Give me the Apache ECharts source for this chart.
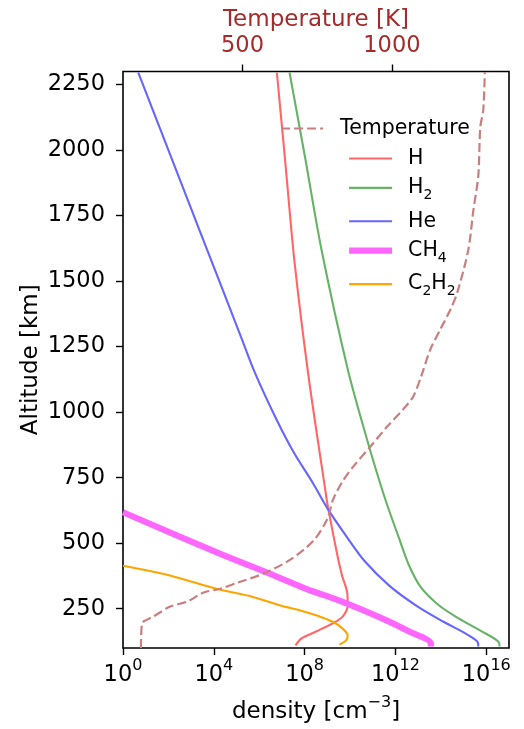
<!DOCTYPE html>
<html>
<head>
<meta charset="utf-8">
<script src="https://cdn.jsdelivr.net/npm/echarts@6/dist/echarts.min.js"></script>
<style>
  html, body { margin: 0; padding: 0; background: #ffffff; }
  #chart { width: 524px; height: 729px; }
</style>
</head>
<body>
<div id="chart"></div>
<script>
const FONT = 'DejaVu Sans';

// Number density profiles: altitude [km] and density [cm^-3]
const hAlt = [2296, 1944, 1583, 1137, 707, 642, 448, 376, 307, 262, 220, 194, 163, 136, 110];
const hDen = [5.98e6, 1.44e7, 3.48e7, 1.48e8, 7.98e8, 1.04e9, 2.85e9, 4.46e9, 7.60e9, 7.85e9, 4.73e9, 1.72e9, 3.21e8, 7.05e7, 3.96e7];

const h2Alt = [2296, 1963, 1621, 1165, 909, 738, 642, 517, 414, 330, 262, 212, 167, 121, 106];
const h2Den = [2.16e7, 1.09e8, 5.50e8, 7.85e9, 5.05e10, 1.95e11, 4.47e11, 1.46e12, 4.02e12, 1.35e13, 8.36e13, 6.31e14, 5.27e15, 3.61e16, 3.80e16];

const heAlt = [2296, 2154, 1975, 1811, 1583, 1495, 1392, 1278, 1153, 974, 848, 726, 631, 528, 433, 338, 262, 201, 155, 125, 106];
const heDen = [4.70, 20.4, 129, 703, 7.40e3, 1.84e4, 5.32e4, 1.73e5, 6.27e5, 5.62e6, 3.24e7, 2.44e8, 1.04e9, 6.67e9, 4.25e10, 5.32e11, 8.17e12, 1.25e14, 1.24e15, 4.02e15, 4.45e15];

const ch4Alt = [618, 460, 384, 326, 276, 212, 163, 117, 106];
const ch4Den = [1.0, 1.82e4, 2.86e6, 1.17e8, 4.73e9, 2.70e11, 4.02e12, 3.61e13, 3.61e13];

const c2h2Alt = [414, 377, 326, 295, 263, 244, 225, 200, 174, 148, 129, 113];
const c2h2Den = [1.0, 116, 1.30e4, 5.27e5, 7.85e6, 5.93e7, 3.21e8, 1.72e9, 4.73e9, 7.85e9, 6.67e9, 3.39e9];

// Temperature profile: altitude [km] and temperature [K]
const tAlt = [100, 190, 202, 220, 258, 277, 311, 326, 349, 384, 437, 509, 593, 669, 741, 794, 870, 946, 1011, 1061, 1137, 1240, 1316, 1392, 1457, 1621, 1773, 1899, 2089, 2154, 2298];
const tVal = [160, 163, 170, 201, 258, 315, 368, 426, 483, 570, 660, 737, 784, 804, 838, 872, 929, 985, 1038, 1072, 1098, 1129, 1162, 1196, 1219, 1256, 1273, 1289, 1296, 1306, 1311];

// Tick positions
const densityTicks = [1, 1e4, 1e8, 1e12, 1e16];
const altitudeTicks = [250, 500, 750, 1000, 1250, 1500, 1750, 2000, 2250];
const temperatureTicks = [500, 1000];

const pairs = (xs, ys) => xs.map((x, i) => [x, ys[i]]);

// Chemical formula with subscript digits as rich text
const formula = name => name
  .replace(/[A-Za-z]+/g, m => '{n|' + m + '}')
  .replace(/\d+/g, m => '{s|' + m + '}');

const chart = echarts.init(document.getElementById('chart'), null, { renderer: 'canvas' });

const TICK_FONT = 22.5;
const NAME_FONT = 23;
const LEGEND_FONT = 20.5;

const tickStyle = { show: true, inside: false, length: 7, lineStyle: { color: '#000', width: 1.4 } };

function speciesSeries(name, den, alt, color, width) {
  return {
    name: name,
    type: 'line',
    xAxisIndex: 0,
    yAxisIndex: 0,
    data: pairs(den, alt),
    symbol: 'none',
    smooth: 0.3,
    clip: true,
    lineStyle: { color: color, width: width },
    itemStyle: { color: color },
    z: 3
  };
}

const option = {
  animation: false,
  backgroundColor: '#ffffff',
  textStyle: { fontFamily: FONT },
  grid: {
    left: 123, right: 15, top: 71.5, bottom: 79.5,
    show: true, borderColor: '#000', borderWidth: 1.6, backgroundColor: 'transparent'
  },
  legend: [
    {
      data: ['Temperature'],
      orient: 'vertical',
      left: 275, top: 113,
      itemWidth: 42, itemHeight: 14,
      itemStyle: { opacity: 0 },
      lineStyle: { width: 'inherit' },
      textStyle: { fontFamily: FONT, fontSize: LEGEND_FONT, color: '#000', padding: [0, 0, 0, 12] }
    },
    {
      data: ['H', 'H2', 'He', 'CH4', 'C2H2'],
      orient: 'vertical',
      left: 341, top: 143,
      itemWidth: 43, itemHeight: 14, itemGap: 8.4,
      itemStyle: { opacity: 0 },
      lineStyle: { width: 'inherit' },
      formatter: formula,
      textStyle: {
        fontFamily: FONT, fontSize: LEGEND_FONT, color: '#000', padding: [0, 0, 0, 11],
        rich: {
          n: { fontFamily: FONT, fontSize: LEGEND_FONT, color: '#000', padding: [4, 0, 4, 0], verticalAlign: 'bottom' },
          s: { fontFamily: FONT, fontSize: 14, color: '#000', lineHeight: 15, verticalAlign: 'bottom' }
        }
      }
    }
  ],
  xAxis: [
    {
      type: 'log',
      logBase: 10,
      min: 1,
      max: 1e17,
      position: 'bottom',
      name: '{n|density [cm}{s|−3}{n|]}',
      nameLocation: 'middle',
      nameGap: 47,
      nameMoveOverlap: false,
      nameTextStyle: {
        rich: {
          n: { fontFamily: FONT, fontSize: NAME_FONT, color: '#000', padding: [6, 0, 0, 0] },
          s: { fontFamily: FONT, fontSize: 16, color: '#000', verticalAlign: 'top' }
        }
      },
      axisLine: { show: false },
      axisTick: Object.assign({ customValues: densityTicks }, tickStyle),
      minorTick: { show: false },
      splitLine: { show: false },
      axisLabel: {
        customValues: densityTicks,
        margin: 10,
        formatter: v => '{b|10}{s|' + Math.round(Math.log10(v)) + '}',
        rich: {
          b: { fontFamily: FONT, fontSize: TICK_FONT, color: '#000', padding: [6, 0, 0, 0] },
          s: { fontFamily: FONT, fontSize: 16, color: '#000', verticalAlign: 'top' }
        }
      }
    },
    {
      type: 'value',
      min: 100,
      max: 1392,
      position: 'top',
      name: 'Temperature [K]',
      nameLocation: 'middle',
      nameGap: 40,
      nameMoveOverlap: false,
      nameTextStyle: { fontFamily: FONT, fontSize: NAME_FONT, color: '#a52a2a' },
      axisLine: { show: false },
      axisTick: Object.assign({ customValues: temperatureTicks }, tickStyle),
      splitLine: { show: false },
      axisLabel: {
        customValues: temperatureTicks,
        margin: 14,
        formatter: v => String(v),
        fontFamily: FONT, fontSize: TICK_FONT, color: '#a52a2a'
      }
    }
  ],
  yAxis: [
    {
      type: 'value',
      min: 100,
      max: 2300,
      name: 'Altitude [km]',
      nameLocation: 'middle',
      nameGap: 80,
      nameMoveOverlap: false,
      nameRotate: 90,
      nameTextStyle: { fontFamily: FONT, fontSize: NAME_FONT, color: '#000' },
      axisLine: { show: false },
      axisTick: Object.assign({ customValues: altitudeTicks }, tickStyle),
      splitLine: { show: false },
      axisLabel: {
        customValues: altitudeTicks,
        margin: 18,
        formatter: v => String(v),
        fontFamily: FONT, fontSize: TICK_FONT, color: '#000'
      }
    }
  ],
  series: [
    {
      name: 'Temperature',
      type: 'line',
      xAxisIndex: 1,
      yAxisIndex: 0,
      data: pairs(tVal, tAlt),
      symbol: 'none',
      smooth: 0.3,
      clip: true,
      lineStyle: { color: '#c97f7f', width: 2.2, type: [9, 4] },
      itemStyle: { color: '#c97f7f' },
      z: 4
    },
    speciesSeries('H', hDen, hAlt, '#ff6666', 2.1),
    speciesSeries('H2', h2Den, h2Alt, '#66b366', 2.1),
    speciesSeries('He', heDen, heAlt, '#6666ff', 2.1),
    speciesSeries('CH4', ch4Den, ch4Alt, '#ff66ff', 6.2),
    speciesSeries('C2H2', c2h2Den, c2h2Alt, '#ffa500', 2.1)
  ]
};

chart.setOption(option);
</script>
</body>
</html>
